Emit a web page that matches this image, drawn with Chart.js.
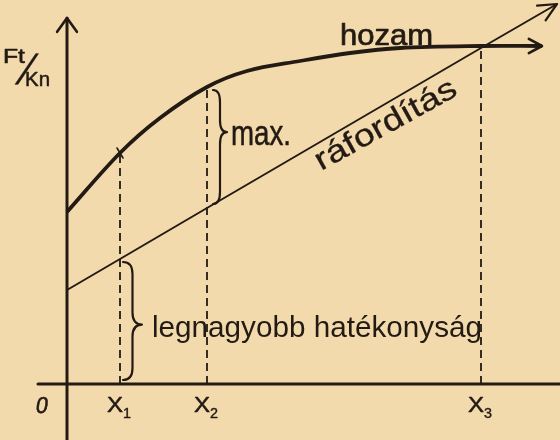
<!DOCTYPE html>
<html>
<head>
<meta charset="utf-8">
<script src="https://cdn.jsdelivr.net/npm/chart.js@4.4.1/dist/chart.umd.min.js"></script>
<style>
  html, body { margin: 0; padding: 0; background: #f3daad; }
  canvas { display: block; }
</style>
</head>
<body>
<canvas id="chart" width="560" height="440"></canvas>
<script>
'use strict';

// values (x: quantity, y: Ft/Kn, arbitrary units)
const hozamX = [0, 5.3, 9.3, 14.0, 18.0, 23.3, 28.3, 33.3, 41.4, 47.5];
const hozamY = [17.2, 23.1, 26.6, 29.7, 31.3, 32.3, 33.1, 33.6, 33.8, 33.8];
const raforditasX = [0, 5.3, 14.0, 41.4, 49.0];
const raforditasY = [9.4, 12.5, 17.6, 33.6, 38.0];
const markX = [5.3, 14.0, 41.4];
const markTop = [23.1, 29.7, 33.8];
const markNames = ['X', 'X', 'X'];
const markSubs = ['1', '2', '3'];
const yAxisTop = 36.6;
const xAxisLeft = -2.9;

const INK = '#221a13';
const PAPER = '#f3daad';
const FONT = "'Liberation Sans', Arial, sans-serif";

function toXY(xs, ys) {
    return xs.map((x, i) => ({ x: x, y: ys[i] }));
}

function arrowHead(ctx, tx, ty, angle, len, spread) {
    ctx.beginPath();
    ctx.moveTo(tx + len * Math.cos(angle + Math.PI - spread), ty + len * Math.sin(angle + Math.PI - spread));
    ctx.lineTo(tx, ty);
    ctx.lineTo(tx + len * Math.cos(angle + Math.PI + spread), ty + len * Math.sin(angle + Math.PI + spread));
    ctx.stroke();
}

// draws text squeezed/stretched to a given width, baseline-left at (x, y)
function fitText(ctx, text, x, y, size, width, opts) {
    opts = opts || {};
    ctx.save();
    ctx.font = size + 'px ' + FONT;
    const w = ctx.measureText(text).width;
    ctx.translate(x, y);
    ctx.rotate(opts.angle || 0);
    if (opts.skew) ctx.transform(1, 0, opts.skew, 1, 0, 0);
    ctx.scale(width / w, 1);
    ctx.textBaseline = 'alphabetic';
    ctx.textAlign = opts.align || 'left';
    ctx.fillText(text, 0, 0);
    if (opts.bold) {
        ctx.lineWidth = opts.bold;
        ctx.strokeText(text, 0, 0);
    }
    ctx.restore();
}

// right-facing curly brace from y1 to y2
function brace(ctx, x, y1, y2, depth, frac) {
    const ym = y1 + (y2 - y1) * frac;
    const r = Math.min(12, (y2 - y1) / 5);
    const h = depth / 2;
    ctx.beginPath();
    ctx.moveTo(x, y1);
    ctx.quadraticCurveTo(x + h, y1, x + h, y1 + r);
    ctx.lineTo(x + h, ym - r);
    ctx.quadraticCurveTo(x + h, ym, x + depth, ym);
    ctx.quadraticCurveTo(x + h, ym, x + h, ym + r);
    ctx.lineTo(x + h, y2 - r);
    ctx.quadraticCurveTo(x + h, y2, x, y2);
    ctx.stroke();
}

const sketchPlugin = {
    id: 'sketch',
    beforeDraw(chart) {
        const ctx = chart.ctx;
        ctx.save();
        ctx.fillStyle = PAPER;
        ctx.fillRect(0, 0, chart.width, chart.height);
        ctx.restore();
    },
    afterDatasetsDraw(chart) {
        const ctx = chart.ctx;
        const sx = chart.scales.x;
        const sy = chart.scales.y;
        const px = v => sx.getPixelForValue(v);
        const py = v => sy.getPixelForValue(v);
        const area = chart.chartArea;

        ctx.save();
        ctx.strokeStyle = INK;
        ctx.fillStyle = INK;
        ctx.lineCap = 'round';
        ctx.lineJoin = 'round';

        // axes
        ctx.lineWidth = 3;
        ctx.beginPath();
        ctx.moveTo(px(0), area.bottom);
        ctx.lineTo(px(0), py(yAxisTop));
        ctx.moveTo(px(xAxisLeft), py(0));
        ctx.lineTo(area.right, py(0));
        ctx.stroke();
        ctx.lineWidth = 2.6;
        arrowHead(ctx, px(0), py(yAxisTop), -Math.PI / 2, 17, 0.62);

        // arrow heads at the end of both curves
        const n = hozamX.length;
        const hTipX = px(hozamX[n - 1]), hTipY = py(hozamY[n - 1]);
        const hAng = Math.atan2(hTipY - py(hozamY[n - 2]), hTipX - px(hozamX[n - 2]));
        ctx.lineWidth = 2.6;
        arrowHead(ctx, hTipX, hTipY, hAng, 15, 0.5);

        const m = raforditasX.length;
        const rTipX = px(raforditasX[m - 1]), rTipY = py(raforditasY[m - 1]);
        const rAng = Math.atan2(rTipY - py(raforditasY[m - 2]), rTipX - px(raforditasX[m - 2]));
        ctx.lineWidth = 2.2;
        arrowHead(ctx, rTipX, rTipY, rAng, 20, 0.44);

        // small tick where the x1 line meets the yield curve
        ctx.lineWidth = 1.6;
        ctx.beginPath();
        ctx.moveTo(px(markX[0]) - 3, py(markTop[0]) - 5);
        ctx.lineTo(px(markX[0]) + 3, py(markTop[0]) + 5);
        ctx.stroke();

        // braces
        ctx.lineWidth = 2.2;
        brace(ctx, px(markX[1]) + 6, py(markTop[1]) + 3, py(raforditasY[2]) - 4, 14, 0.37);
        brace(ctx, px(markX[0]) + 3, py(raforditasY[1]) + 3, py(0) - 4, 19, 0.53);

        // labels
        fitText(ctx, 'hozam', 340, 45, 29, 93, { bold: 0.7 });
        fitText(ctx, 'max.', 231, 145, 35, 60, { bold: 0.5 });
        fitText(ctx, 'legnagyobb hatékonyság', 152, 337, 30, 330);
        fitText(ctx, 'ráfordítás', 321, 171, 31, 158, { angle: -29 * Math.PI / 180, bold: 0.3 });

        fitText(ctx, 'Ft', 3, 63, 20, 22, { bold: 0.6 });
        fitText(ctx, '/', 15, 84, 42, 11, { skew: -0.42, bold: 0.3 });
        fitText(ctx, 'Kn', 25, 86, 20, 25, { bold: 0.5 });

        // origin and x marks
        fitText(ctx, '0', 35, 413, 23, 12, { skew: -0.15, bold: 0.6 });
        markX.forEach((v, i) => {
            const cx = px(v) - 5;
            fitText(ctx, markNames[i], cx - 8, 412, 22, 16, { bold: 0.5 });
            fitText(ctx, markSubs[i], cx + 8, 418, 15, 8, { bold: 0.4 });
        });

        ctx.restore();
    }
};

const markSets = markX.map((v, i) => ({
    data: [{ x: v, y: 0 }, { x: v, y: markTop[i] }],
    showLine: true,
    borderColor: INK,
    borderWidth: 1.8,
    borderDash: [8, 5],
    pointRadius: 0
}));

new Chart(document.getElementById('chart'), {
    type: 'scatter',
    data: {
        datasets: [
            {
                label: 'hozam',
                data: toXY(hozamX, hozamY),
                showLine: true,
                borderColor: INK,
                borderWidth: 3.8,
                tension: 0.35,
                pointRadius: 0
            },
            {
                label: 'ráfordítás',
                data: toXY(raforditasX, raforditasY),
                showLine: true,
                borderColor: INK,
                borderWidth: 2,
                pointRadius: 0
            }
        ].concat(markSets)
    },
    options: {
        responsive: false,
        animation: false,
        events: [],
        layout: { padding: 0, autoPadding: false },
        scales: {
            x: { type: 'linear', display: false, min: -6.7, max: 49.3 },
            y: { type: 'linear', display: false, min: -5.6, max: 38.4 }
        },
        plugins: {
            legend: { display: false },
            tooltip: { enabled: false }
        }
    },
    plugins: [sketchPlugin]
});
</script>
</body>
</html>
